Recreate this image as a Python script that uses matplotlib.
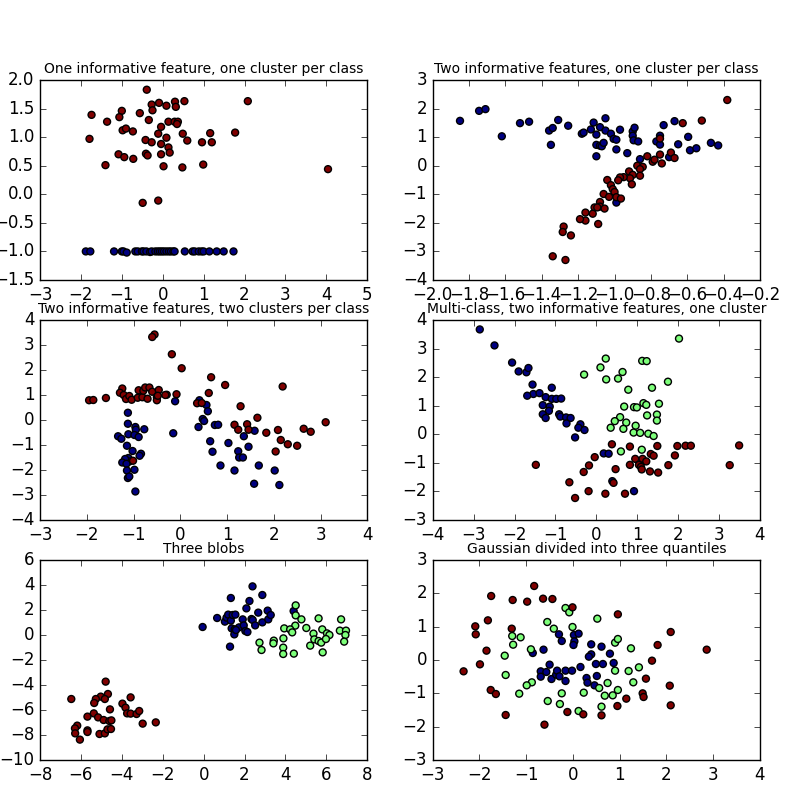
import numpy as np
import matplotlib.pyplot as plt

plt.style.use('classic')

# Plot 1 - one informative feature, one cluster per class
p1_red_x = [-0.39, 2.08, -1.74, -0.27, -0.09, 0.30, 0.53, 0.09, 0.32, -1.00, -0.25, -0.56, -1.06, -1.36,
            -0.34, 0.14, 0.29, 0.37, 0.35, -0.98, -0.90, -0.73, -0.04, -0.11, 0.49, 1.16, 1.77, -1.79,
            0.09, -0.42, -0.27, 0.60, 0.96, 1.20, -0.04, 0.14, 0.17, -1.08, -0.41, -0.37, -0.04, -0.94,
            -0.72, -1.40, 0.02, 0.48, 0.99, 4.04, -0.49, -0.11]
p1_red_y = [1.83, 1.63, 1.39, 1.57, 1.60, 1.62, 1.63, 1.55, 1.53, 1.46, 1.47, 1.42, 1.35, 1.27,
            1.30, 1.27, 1.27, 1.27, 1.23, 1.12, 1.15, 1.10, 1.18, 1.06, 1.06, 1.07, 1.08, 0.97,
            0.99, 0.95, 0.91, 0.94, 0.91, 0.91, 0.88, 0.82, 0.73, 0.70, 0.71, 0.68, 0.70, 0.65,
            0.62, 0.51, 0.49, 0.47, 0.52, 0.44, -0.15, -0.11]
p1_blue_x = [-1.88, -1.77, -1.19, -1.00, -0.96, -0.88, -0.67, -0.61, -0.51, -0.47, -0.40, -0.31, -0.27,
             -0.18, -0.12, -0.07, -0.02, 0.03, 0.09, 0.15, 0.20, 0.26, 0.29, 0.54, 0.73, 0.78, 0.88,
             0.95, 1.00, 1.14, 1.32, 1.49, 1.73]
p1_blue_y = [-1.0, -1.0, -1.0, -1.0, -1.0, -1.02, -1.0, -1.0, -1.0, -1.0, -1.0, -1.01, -1.0,
             -1.0, -1.0, -1.0, -1.0, -1.0, -1.0, -1.0, -1.0, -1.0, -1.0, -1.0, -1.0, -1.0, -1.0,
             -1.0, -1.0, -1.0, -1.0, -1.0, -1.0]

# Plot 2 - two informative features, one cluster per class
p2_blue_x = [-1.85, -1.745, -1.71, -1.62, -1.52, -1.47, -1.36, -1.34, -1.31, -1.35, -1.255, -1.18, -1.17,
             -1.13, -1.115, -1.10, -1.08, -1.10, -1.08, -1.07, -1.06, -1.10, -1.05, -1.05, -1.02, -1.005,
             -0.99, -0.99, -0.97, -0.93, -0.90, -0.89, -0.90, -0.895, -0.87, -0.86, -0.99, -0.77, -0.75,
             -0.75, -0.73, -0.70, -0.67, -0.65, -0.595, -0.585, -0.55, -0.47, -0.43]
p2_blue_y = [1.57, 1.92, 1.98, 1.03, 1.49, 1.54, 1.23, 1.32, 1.60, 0.73, 1.40, 1.12, 1.16,
             1.27, 1.51, 1.09, 1.35, 0.73, 0.70, 0.68, 0.80, 0.33, 1.66, 1.23, 1.12, 0.94,
             0.91, 0.57, 1.26, 0.44, 1.20, 1.33, 1.05, 0.89, 0.85, 0.23, -1.29, 0.85, 1.05,
             0.74, 1.42, 0.30, 1.56, 0.75, 1.01, 0.54, 0.61, 0.80, 0.71]
p2_red_x = [-0.38, -0.52, -0.625, -0.75, -0.69, -0.67, -0.75, -0.74, -0.82, -0.79, -0.78, -0.875, -0.845,
            -0.86, -0.86, -0.92, -0.90, -0.915, -0.905, -0.95, -0.97, -0.98, -1.04, -1.02, -1.01, -1.00,
            -1.06, -1.03, -0.99, -0.965, -1.08, -1.08, -1.055, -1.11, -1.095, -1.12, -1.16, -1.16, -1.19,
            -1.09, -1.28, -1.285, -1.24, -1.34, -1.27]
p2_red_y = [2.30, 1.58, 1.49, 0.95, 0.46, 0.27, 0.39, 0.08, 0.33, 0.14, 0.21, 0.00, -0.04,
            -0.12, -0.35, -0.20, -0.32, -0.44, -0.65, -0.40, -0.41, -0.51, -0.50, -0.68, -0.82, -0.92,
            -0.99, -1.09, -1.10, -1.15, -1.27, -1.43, -1.50, -1.46, -1.46, -1.68, -1.64, -1.92, -1.87,
            -2.04, -2.13, -2.32, -2.44, -3.17, -3.30]

# Plot 3 - two informative features, two clusters per class
p3_red_x = [-0.55, -0.60, -0.18, 0.03, 0.66, 0.96, 2.19, -1.95, -1.86, -1.59, -1.24, -1.29, -1.21,
            -1.16, -1.09, -1.04, -0.89, -0.91, -0.81, -0.79, -0.75, -0.66, -0.60, -0.70, -0.50, -0.46,
            -0.50, -0.48, -0.29, -0.32, -0.08, 0.36, 0.46, 0.61, 1.29, 1.65, 1.16, 1.24, 1.43, 1.46,
            1.84, 2.09, 2.15, 2.30, 2.50, 2.04, 2.64, 2.79, 3.11, -1.01]
p3_red_y = [3.42, 3.32, 2.63, 2.07, 1.71, 1.40, 1.34, 0.79, 0.80, 0.88, 1.26, 1.09, 1.00,
            0.84, 0.96, 0.81, 1.19, 0.89, 0.91, 1.17, 1.30, 1.30, 1.13, 0.85, 0.91, 1.20,
            0.79, 0.97, 1.01, 1.00, 1.03, 0.67, 0.68, 1.08, 0.55, 0.09, -0.19, -0.39, -0.17, -0.39,
            -0.51, -0.40, -0.80, -0.97, -1.03, -1.26, -0.35, -0.47, -0.09, -1.63]
p3_blue_x = [-1.12, -1.12, -0.96, -0.95, -0.77, -1.11, -0.98, -0.89, -1.33, -1.26, -1.14, -1.02, -0.84,
             -0.87, -1.11, -1.09, -1.18, -1.24, -1.15, -1.14, -0.98, -1.12, -1.09, -0.96, -0.11, -0.15,
             0.41, 0.56, 0.59, 0.48, 0.51, 0.39, 0.74, 0.81, 0.64, 0.69, 1.03, 0.86, 1.16, 1.24,
             1.26, 1.34, 1.36, 1.46, 1.59, 1.68, 1.58, 2.02, 2.12]
p3_blue_y = [0.29, -0.15, -0.28, -0.39, -0.37, -0.57, -0.60, -0.68, -0.65, -0.75, -1.03, -1.24, -1.35,
             -1.43, -1.52, -1.66, -1.56, -1.70, -1.75, -2.02, -1.99, -2.32, -2.26, -2.86, 0.75, -0.53,
             0.79, 0.60, 0.35, 0.04, -0.04, -0.28, -0.20, -0.19, -0.85, -1.27, -0.92, -1.82, -2.02, -1.25,
             -1.50, -1.50, -0.65, -1.07, -0.43, -1.82, -2.55, -2.02, -2.60]

# Plot 4 - multi-class, two informative features, one cluster
p4_blue_x = [-2.85, -2.49, -2.06, -1.90, -1.71, -1.66, -1.56, -1.54, -1.69, -1.39, -1.09, -1.24, -1.09,
             -0.98, -0.86, -1.31, -1.14, -1.16, -1.31, -1.24, -0.91, -0.88, -0.74, -0.63, -0.73, -0.39,
             -0.44, -0.29, -0.52, 0.18, 0.30, 0.39, 0.92]
p4_blue_y = [3.67, 3.11, 2.51, 2.20, 2.17, 2.32, 1.74, 1.41, 1.35, 1.44, 1.63, 1.30, 1.24,
             1.24, 1.25, 1.02, 0.97, 0.82, 0.70, 0.57, 0.70, 0.62, 0.59, 0.57, 0.38, 0.35,
             0.23, 0.15, -0.11, -0.67, -0.68, -1.64, -1.99]
p4_green_x = [2.02, 0.23, 1.12, 1.23, 0.10, 0.64, -0.30, 0.24, 0.53, 1.75, 0.78, 1.36, 1.15,
              1.22, 1.53, 0.68, 0.92, 0.99, 1.24, 1.48, 1.48, 0.58, 0.45, 0.73, 0.35, 0.66,
              0.96, 0.91, 1.07, 1.27, 1.40, 1.11, 0.60]
p4_green_y = [3.35, 2.65, 2.57, 2.56, 2.34, 2.18, 2.09, 1.92, 1.95, 1.84, 1.56, 1.63, 1.09,
              1.03, 1.07, 0.97, 0.95, 0.94, 0.66, 0.69, 0.48, 0.60, 0.46, 0.41, 0.23, 0.19,
              0.30, 0.06, 0.05, 0.02, -0.06, -0.54, -0.60]
p4_red_x = [3.49, -1.48, 0.38, 0.82, 1.49, 1.98, 2.18, 2.31, -0.04, 0.95, 1.13, 1.33, 1.40,
            1.22, 1.92, 0.82, 1.04, 1.09, 1.11, 1.31, 1.51, 1.76, 3.26, -0.18, -0.31, 0.47,
            -0.66, 0.42, -0.19, 0.22, 0.70, -0.52]
p4_red_y = [-0.39, -1.07, -0.35, -0.43, -0.41, -0.41, -0.40, -0.40, -0.80, -0.86, -0.86, -0.69, -0.75,
            -0.95, -0.74, -1.07, -1.07, -1.14, -1.23, -1.30, -1.34, -1.08, -1.08, -1.09, -1.32, -1.22,
            -1.68, -1.70, -1.99, -2.08, -2.08, -2.23]

# Plot 5 - three blobs
p5_blue_x = [-0.05, 0.66, 1.04, 1.12, 1.20, 1.33, 1.33, 1.42, 1.55, 1.37, 1.52, 1.50, 1.29,
             1.73, 1.91, 1.96, 2.09, 2.04, 2.14, 2.24, 2.39, 2.34, 2.40, 2.52, 2.67, 2.87, 2.87,
             3.13, 3.16, 3.28, 4.40, 1.58]
p5_blue_y = [0.64, 1.36, 1.07, 1.39, 1.63, 2.96, 1.15, 1.60, 1.63, 0.53, 0.45, 0.05, -0.93,
             0.61, 1.25, 0.77, 2.13, 0.32, 0.24, 2.72, 3.89, 1.28, 1.20, 0.77, 1.79, 3.20, 1.01,
             1.95, 1.25, 1.60, 1.92, 0.40]
p5_green_x = [4.50, 4.50, 4.78, 5.62, 6.72, 3.94, 4.48, 4.23, 4.33, 5.02, 5.37, 5.80, 6.03,
              6.15, 6.66, 6.96, 6.93, 6.87, 2.73, 2.83, 3.43, 3.41, 3.90, 3.89, 3.89, 4.41, 5.41,
              5.62, 5.75, 5.98, 5.21, 5.82]
p5_green_y = [2.37, 1.57, 1.25, 1.33, 1.25, 0.53, 0.75, 0.45, 0.21, 0.56, 0.11, 0.45, 0.13,
              0.00, 0.35, 0.35, 0.00, -0.53, -0.61, -1.20, -0.45, -0.67, -0.27, -1.01, -1.52, -1.49, -0.35,
              -0.48, -0.61, -0.32, -0.85, -1.39]
p5_red_x = [-6.47, -4.79, -4.68, -5.03, -5.27, -5.35, -4.83, -4.58, -3.57, -3.97, -3.82, -3.74, -3.57,
            -3.28, -3.15, -2.98, -2.34, -5.37, -5.68, -5.16, -4.89, -4.61, -4.51, -6.18, -6.29, -6.28,
            -6.05, -5.68, -5.68, -5.09, -4.83, -4.70, -4.53]
p5_red_y = [-5.12, -3.73, -4.72, -4.93, -5.12, -5.44, -5.12, -5.95, -4.99, -5.49, -5.81, -6.27, -6.29,
            -6.32, -6.08, -7.09, -6.99, -6.27, -6.53, -6.59, -6.80, -6.88, -6.83, -7.25, -7.47, -7.87,
            -8.37, -7.63, -7.76, -7.92, -7.87, -7.55, -7.52]

# Plot 6 - gaussian divided into three quantiles
p6_red_x = [-2.34, -1.99, -2.09, -2.08, -1.82, -1.85, -1.75, -1.76, -1.65, -1.44, -1.31, -1.29, -0.98,
            -0.83, -0.64, -0.44, -0.01, -0.12, -0.61, 0.22, 0.61, 0.96, 0.95, 1.14, 1.49, 1.51,
            1.56, 1.69, 1.81, 2.09, 2.07, 2.09, 2.86]
p6_red_y = [-0.34, -0.13, 1.01, 0.77, 1.19, 0.28, 1.92, -0.90, -1.02, -1.65, 0.94, 1.80, 1.75,
            2.22, 1.84, 1.83, 1.58, -1.56, -1.94, -1.63, -1.66, 1.37, -1.38, -1.16, -1.00, -1.11,
            -0.56, -0.02, 0.45, 0.84, -0.77, -1.36, 0.31]
p6_green_x = [-0.16, -0.08, -0.55, -0.41, 0.52, -0.01, -1.30, -1.12, -1.28, -0.90, -1.46, -1.44, -0.88,
              -0.99, -1.15, -0.24, -0.54, -0.28, 0.23, 0.12, 0.56, 0.74, 0.68, 0.85, 0.96, 0.61,
              0.90, 0.90, 0.96, 1.24, 1.19, 1.41, 1.29]
p6_green_y = [1.56, 1.43, 1.14, 0.94, 1.24, 0.99, 0.72, 0.68, 0.46, 0.32, 0.13, -0.45, -0.67,
              -0.76, -1.01, -1.00, -1.23, -1.32, -0.98, -1.53, -0.84, -0.69, -1.07, -1.06, -0.90, -1.40,
              -0.32, 0.52, 0.63, 0.35, -0.33, -0.22, -0.67]
p6_blue_x = [-0.30, -0.24, 0.02, 0.12, 0.03, 0.01, -0.63, -0.86, 0.39, 0.61, 0.39, 0.34, 0.79,
             -0.50, -0.69, -0.57, -0.69, -0.46, -0.36, -0.34, -0.29, -0.16, -0.02, -0.16, 0.16, 0.29,
             0.31, 0.49, 0.51, 0.46, 0.64, 0.87]
p6_blue_y = [0.77, 0.57, 0.75, 0.79, 0.56, 0.45, 0.31, 0.21, 0.47, 0.40, 0.17, 0.10, 0.19,
             -0.14, -0.34, -0.36, -0.50, -0.57, -0.44, -0.32, -0.49, -0.32, -0.32, -0.63, -0.21, -0.54,
             -0.68, -0.12, -0.48, -0.76, -0.12, -0.09]

titles = ["One informative feature, one cluster per class",
          "Two informative features, one cluster per class",
          "Two informative features, two clusters per class",
          "Multi-class, two informative features, one cluster",
          "Three blobs",
          "Gaussian divided into three quantiles"]

# each plot: list of (x, y) per class, in label order
groups = [[(p1_blue_x, p1_blue_y), (p1_red_x, p1_red_y)],
          [(p2_blue_x, p2_blue_y), (p2_red_x, p2_red_y)],
          [(p3_blue_x, p3_blue_y), (p3_red_x, p3_red_y)],
          [(p4_blue_x, p4_blue_y), (p4_green_x, p4_green_y), (p4_red_x, p4_red_y)],
          [(p5_blue_x, p5_blue_y), (p5_green_x, p5_green_y), (p5_red_x, p5_red_y)],
          [(p6_blue_x, p6_blue_y), (p6_green_x, p6_green_y), (p6_red_x, p6_red_y)]]

xlims = [(-3, 5), (-2.0, -0.2), (-3, 4), (-4, 4), (-8, 8), (-3, 4)]
ylims = [(-1.5, 2.0), (-4, 3), (-4, 4), (-3, 4), (-10, 6), (-3, 3)]

plt.figure(figsize=(8, 8))
plt.subplots_adjust(bottom=.05, top=.9, left=.05, right=.95)

for i, classes in enumerate(groups):
    plt.subplot(3, 2, i + 1)
    plt.title(titles[i], fontsize='small')
    X = np.concatenate([np.array(c[0]) for c in classes])
    Y = np.concatenate([np.array(c[1]) for c in classes])
    labels = np.concatenate([np.full(len(c[0]), k) for k, c in enumerate(classes)])
    plt.scatter(X, Y, marker='o', c=labels, cmap='jet', s=25)
    plt.xlim(xlims[i])
    plt.ylim(ylims[i])

plt.savefig('out.png', dpi=100)
